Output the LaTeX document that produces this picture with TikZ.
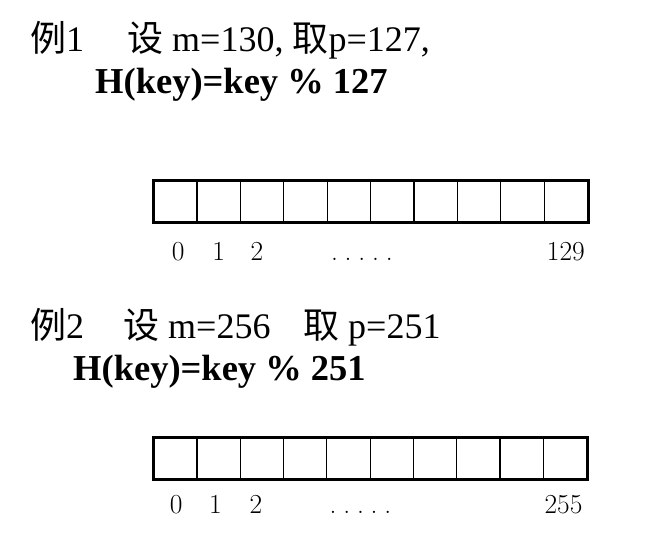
\documentclass[tikz,border=0pt]{standalone}
\usepackage{fontspec}
\newfontfamily\timesfont{Liberation Serif}
\newfontfamily\cjk{Noto Sans CJK SC}
\usetikzlibrary{positioning}

\begin{document}
\begin{tikzpicture}[x=1pt,y=-1pt]
\tikzset{slot/.style={draw, line width=1.1pt, minimum width=43.4pt, minimum height=41pt, inner sep=0pt, anchor=north west}}
\tikzset{idx/.style={inner sep=0pt, anchor=base, font=\fontsize{27.5}{28}\selectfont}} % index under a slot
\tikzset{head/.style={inner sep=0pt, anchor=base west, font=\timesfont\fontsize{36}{40}\selectfont}}
\tikzset{hash/.style={head, font=\timesfont\bfseries\fontsize{36.5}{40}\selectfont}}
\newcommand{\fivedots}{.\hspace{6.8pt}.\hspace{6.8pt}.\hspace{6.8pt}.\hspace{6.8pt}.}
\useasboundingbox[fill=white] (0,0) rectangle (650,535);

% example 1
\node[head] (ex1) at (30,52) {{\cjk 例}1};
\node[head] (set1) at (127,52) {{\cjk 设} m=130, {\cjk 取}p=127,};
\node[hash] (h1) at (95,93) {H(key)=key \% 127};
\foreach \i in {1,...,10}
  \node[slot] (a\i) at ({153+(\i-1)*43.4},180) {};
\draw[line width=3pt] (a1.north west) rectangle (a10.south east);
\node[below=38pt of a1, idx, xshift=3pt] (a-0) {0};
\node[below=38pt of a2, idx] (a-1) {1};
\node[below=38pt of a3, idx, xshift=-5pt] (a-2) {2};
\node[below=38pt of a5, idx, xshift=13pt] (a-dots) {\fivedots};
\node[below=38pt of a10, idx] (a-last) {129};

% example 2
\node[head] (ex2) at (30,338) {{\cjk 例}2};
\node[head] (set2) at (123,338) {{\cjk 设} m=256};
\node[head] (take2) at (303,338) {{\cjk 取} p=251};
\node[hash] (h2) at (73,380) {H(key)=key \% 251};
\foreach \i in {1,...,10}
  \node[slot] (b\i) at ({153+(\i-1)*43.3},437) {};
\draw[line width=3pt] (b1.north west) rectangle (b10.south east);
\node[below=34pt of b1, idx, xshift=1pt] (b-0) {0};
\node[below=34pt of b2, idx, xshift=-3pt] (b-1) {1};
\node[below=34pt of b3, idx, xshift=-6pt] (b-2) {2};
\node[below=34pt of b5, idx, xshift=12pt] (b-dots) {\fivedots};
\node[below=34pt of b10, idx, xshift=-1.5pt] (b-last) {255};
\end{tikzpicture}
\end{document}
